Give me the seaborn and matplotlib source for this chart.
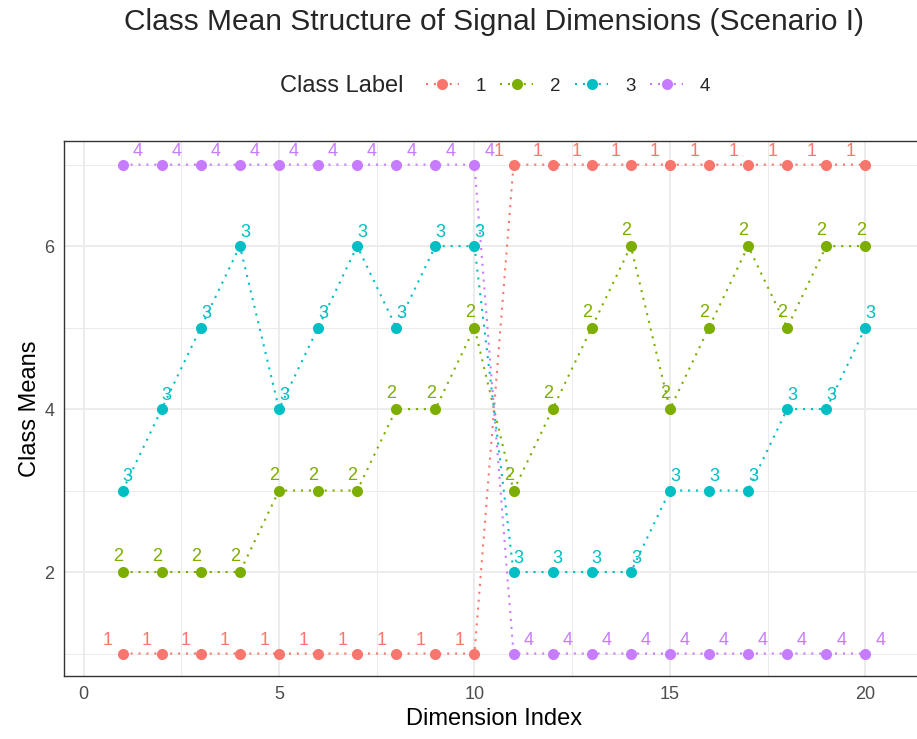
import matplotlib
matplotlib.use("Agg")
import matplotlib.pyplot as plt
import seaborn as sns
import pandas as pd
from matplotlib.lines import Line2D

# Dimension index and per-class mean values
dims = [1, 2, 3, 4, 5, 6, 7, 8, 9, 10, 11, 12, 13, 14, 15, 16, 17, 18, 19, 20]
class1 = [1, 1, 1, 1, 1, 1, 1, 1, 1, 1, 7, 7, 7, 7, 7, 7, 7, 7, 7, 7]
class2 = [2, 2, 2, 2, 3, 3, 3, 4, 4, 5, 3, 4, 5, 6, 4, 5, 6, 5, 6, 6]
class3 = [3, 4, 5, 6, 4, 5, 6, 5, 6, 6, 2, 2, 2, 2, 3, 3, 3, 4, 4, 5]
class4 = [7, 7, 7, 7, 7, 7, 7, 7, 7, 7, 1, 1, 1, 1, 1, 1, 1, 1, 1, 1]
class_labels = ["1", "2", "3", "4"]
colors = ["#F8766D", "#7CAE00", "#00BFC4", "#C77CFF"]

# label offsets so the class numbers sit beside each point
label_dx = {"1": -0.38, "2": -0.12, "3": 0.13, "4": 0.38}
label_dy = {"1": 0.16, "2": 0.19, "3": 0.17, "4": 0.16}

frames = []
for lab, vals in zip(class_labels, [class1, class2, class3, class4]):
    frames.append(pd.DataFrame({"dim": dims, "mean": vals, "cls": lab}))
df = pd.concat(frames, ignore_index=True)

sns.set_style("white")
plt.rcParams["font.family"] = ["Liberation Sans", "DejaVu Sans"]

W, H = 917, 739
fig = plt.figure(figsize=(W / 100, H / 100), dpi=100)
left, right, top, bottom = 64, 924, 141, 676
ax = fig.add_axes([left / W, 1 - bottom / H, (right - left) / W, (bottom - top) / H])

dot = (0, (1, 2.8))
palette = dict(zip(class_labels, colors))
sns.lineplot(data=df, x="dim", y="mean", hue="cls", hue_order=class_labels,
             palette=palette, marker="o", markersize=8, markeredgewidth=0,
             linestyle=dot, linewidth=1.5, legend=False, ax=ax, zorder=3)

for _, r in df.iterrows():
    ax.text(r["dim"] + label_dx[r["cls"]], r["mean"] + label_dy[r["cls"]], r["cls"],
            color=palette[r["cls"]], ha="center", va="center", fontsize=13, zorder=4)

ax.set_xlim(-0.5, 21.5)
ax.set_ylim(0.724, 7.29)
ax.set_xticks([0, 5, 10, 15, 20])
ax.set_xticks([2.5, 7.5, 12.5, 17.5], minor=True)
ax.set_yticks([2, 4, 6])
ax.set_yticks([1, 3, 5, 7], minor=True)
ax.grid(which="major", color="#EBEBEB", linewidth=1.3)
ax.grid(which="minor", color="#EBEBEB", linewidth=0.7)
ax.set_axisbelow(True)
ax.tick_params(which="major", length=4, width=0.9, color="#333333",
               labelsize=13, labelcolor="#4D4D4D", pad=3)
ax.tick_params(which="minor", length=0)
for s in ax.spines.values():
    s.set_color("#333333")
    s.set_linewidth(1.0)

ax.set_xlabel("Dimension Index", fontsize=17, color="black", labelpad=4)
ax.set_ylabel("Class Means", fontsize=17, color="black", labelpad=2)

fig.text(494 / W, 1 - 22 / H, "Class Mean Structure of Signal Dimensions (Scenario I)",
         ha="center", va="center", fontsize=21.5)

# horizontal legend with its title on the left
fig.text(280 / W, 1 - 86 / H, "Class Label", ha="left", va="center", fontsize=17)
handles = [Line2D([], [], color=c, marker="o", markersize=8, markeredgewidth=0,
                  linestyle=dot, linewidth=1.5) for c in colors]
fig.legend(handles, class_labels, ncol=4, loc="center",
           bbox_to_anchor=(568 / W, 1 - 86 / H), frameon=False, fontsize=13.5,
           handlelength=1.76, handletextpad=0.9, columnspacing=0.78)

fig.savefig("out.png", dpi=100)
